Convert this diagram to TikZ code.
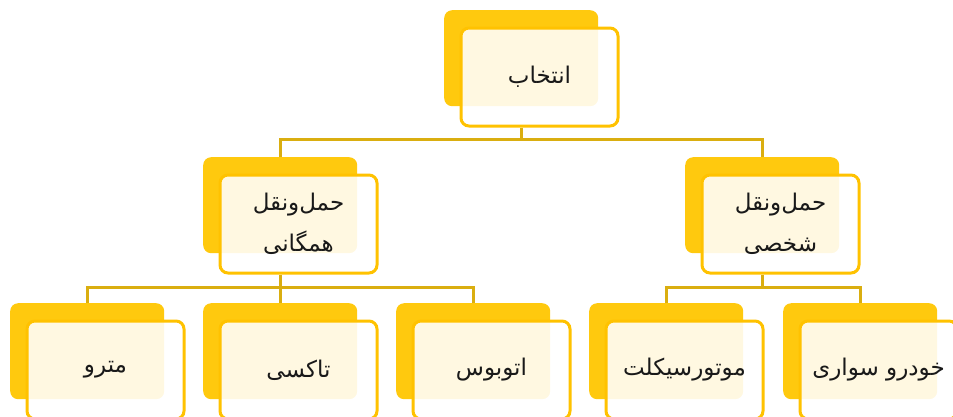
\documentclass[tikz,border=0pt]{standalone}
\usepackage{fontspec}
\newfontfamily\arabicfont[Script=Arabic]{DejaVu Sans}
\TeXXeTstate=1
\usetikzlibrary{calc}
\definecolor{gold}{RGB}{255,201,14}
\definecolor{edgegold}{RGB}{255,194,0}
\definecolor{conngold}{RGB}{218,174,16}
\definecolor{txt}{RGB}{25,25,25}
\tikzset{
  backbox/.style={rectangle, rounded corners=8pt, fill=gold, draw=none,
    minimum width=154pt, minimum height=96pt, anchor=north west, inner sep=0pt},
  frontbox/.style={rectangle, rounded corners=8pt, fill=white, fill opacity=0.88,
    text opacity=1, draw=edgegold, line width=3pt, minimum width=157pt,
    minimum height=98pt, anchor=north west, inner sep=0pt, text=txt,
    align=center, font=\arabicfont\fontsize{23}{41}\selectfont},
  connline/.style={draw=conngold, line width=3pt}
}
\begin{document}
\begin{tikzpicture}[x=1pt,y=-1pt]
\useasboundingbox (0,0) rectangle (953,416);
\clip (0,0) rectangle (953,416);
% top
\node[backbox] (tb) at (444,10) {};
\node[frontbox] (tf) at ($(tb.north west)+(15.5,16.5)$) {\beginR انتخاب\endR};
% level 2
\node[backbox] (lb) at (203,157) {};
\node[frontbox] (lf) at ($(lb.north west)+(15.5,16.5)$) {\beginR حمل^^^^200cونقل\endR\\\beginR همگانی\endR};
\node[backbox] (rb) at (685,157) {};
\node[frontbox] (rf) at ($(rb.north west)+(15.5,16.5)$) {\beginR حمل^^^^200cونقل\endR\\\beginR شخصی\endR};
% level 3
\node[backbox] (b1) at (10,303) {};
\node[frontbox] (f1) at ($(b1.north west)+(15.5,16.5)$) {\beginR مترو\endR};
\node[backbox] (b2) at (203,303) {};
\node[frontbox] (f2) at ($(b2.north west)+(15.5,16.5)$) {\beginR تاکسی\endR};
\node[backbox] (b3) at (396,303) {};
\node[frontbox] (f3) at ($(b3.north west)+(15.5,16.5)$) {\beginR اتوبوس\endR};
\node[backbox] (b4) at (589,303) {};
\node[frontbox] (f4) at ($(b4.north west)+(15.5,16.5)$) {\beginR موتورسیکلت\endR};
\node[backbox] (b5) at (783,303) {};
\node[frontbox] (f5) at ($(b5.north west)+(15.5,16.5)$) {\beginR خودرو سواری\endR};
% connectors
\coordinate (h1) at (0,139);
\coordinate (h2) at (0,287);
\draw[connline] (tb.south |- tf.south) -- (tb.south |- h1) -| (lb.north);
\draw[connline] (tb.south |- h1) -| (rb.north);
\draw[connline] (lb.south |- lf.south) -- (lb.south |- h2) -- (b2.north);
\draw[connline] (b1.north) |- (b3.north |- h2) -- (b3.north);
\draw[connline] (rb.south |- rf.south) -- (rb.south |- h2);
\draw[connline] (b4.north) |- (b5.north |- h2) -- (b5.north);
\end{tikzpicture}
\end{document}
